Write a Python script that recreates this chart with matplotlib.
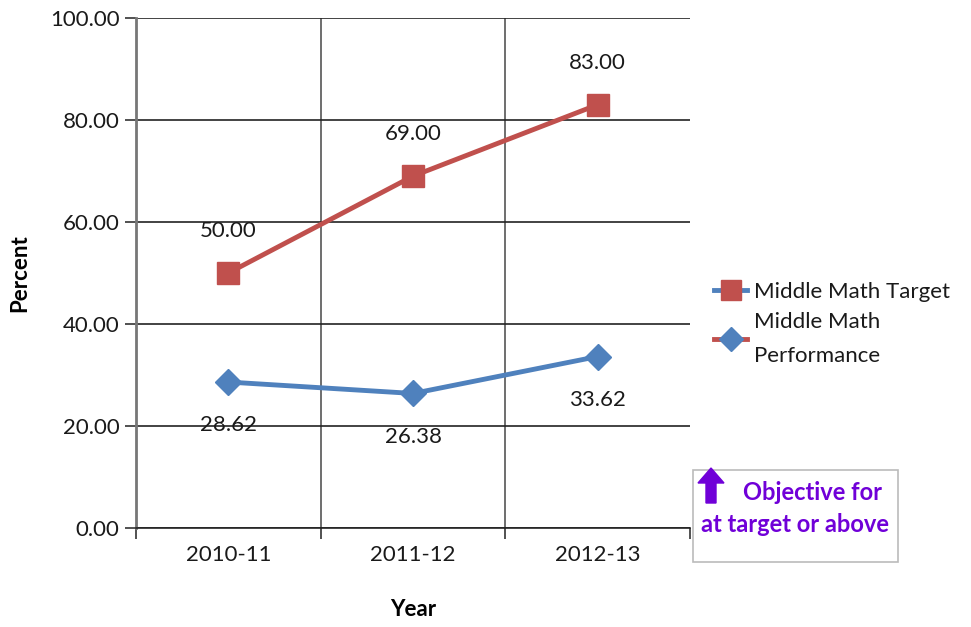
import matplotlib.pyplot as plt
from matplotlib.lines import Line2D
from matplotlib.patches import FancyArrow, Rectangle

years = ['2010-11', '2011-12', '2012-13']
target = [50.00, 69.00, 83.00]
performance = [28.62, 26.38, 33.62]
yticks = [0, 20, 40, 60, 80, 100]

red = '#C0504D'
blue = '#4F81BD'
purple = '#7000D8'
txt = '#1a1a1a'

plt.rcParams['font.family'] = ['Lato', 'DejaVu Sans']
fs = 16

fig = plt.figure(figsize=(9.71, 6.27), dpi=100)
ax = fig.add_axes([136 / 971, 1 - 528 / 627, (690 - 136) / 971, (528 - 18) / 627])

x = [0.5, 1.5, 2.5]
ax.plot(x, target, color=red, lw=3.5, marker='s', ms=16, zorder=4)
ax.plot(x, performance, color=blue, lw=3.5, marker='D', ms=13, zorder=4)

for xi, v in zip(x, target):
    ax.annotate(f'{v:.2f}', (xi, v), xytext=(0, 30), textcoords='offset points',
                ha='center', va='center', fontsize=fs, color=txt)
for xi, v in zip(x, performance):
    ax.annotate(f'{v:.2f}', (xi, v), xytext=(0, -31), textcoords='offset points',
                ha='center', va='center', fontsize=fs, color=txt)

ax.set_xlim(0, 3)
ax.set_ylim(0, 100)
ax.set_yticks(yticks)
ax.set_yticklabels([f'{t:.2f}' for t in yticks], fontsize=fs, color=txt)
ax.set_xticks([0, 1, 2, 3])
ax.set_xticklabels([])
ax.set_xticks(x, minor=True)
ax.set_xticklabels(years, minor=True, fontsize=fs, color=txt)
ax.tick_params(axis='x', which='minor', length=0, pad=12)
ax.tick_params(axis='x', which='major', length=8, width=1.2, color='#333333')
ax.tick_params(axis='y', length=8, width=1.2, color='#333333', pad=4)

ax.grid(True, axis='y', color='#222222', lw=1.2)
for xv in [1, 2]:
    ax.axvline(xv, color='#555555', lw=1.2, zorder=1)
for s in ['top', 'right']:
    ax.spines[s].set_visible(False)
ax.spines['left'].set_color('#777777')
ax.spines['left'].set_linewidth(2)
ax.spines['bottom'].set_color('#222222')
ax.spines['bottom'].set_linewidth(1.2)

ax.set_ylabel('Percent', fontsize=fs, fontweight='bold', labelpad=14)
ax.set_xlabel('Year', fontsize=fs, fontweight='bold', labelpad=25)

handles = [
    Line2D([], [], color=blue, lw=3.5, marker='s', ms=14, markerfacecolor=red, markeredgecolor=red),
    Line2D([], [], color=red, lw=3.5, marker='D', ms=12, markerfacecolor=blue, markeredgecolor=blue),
]
leg = fig.legend(handles, ['Middle Math Target', 'Middle Math\nPerformance'],
                 loc='upper left', bbox_to_anchor=(694 / 971, 1 - 262 / 627),
                 frameon=False, fontsize=fs, handlelength=1.5, handletextpad=0.3,
                 labelspacing=0.45)
for t in leg.get_texts():
    t.set_color(txt)
    t.set_linespacing(1.9)

fig.patches.append(Rectangle((693 / 971, 1 - 562 / 627), 205 / 971, 92 / 627,
                             transform=fig.transFigure, fill=False,
                             edgecolor='#bbbbbb', lw=1.2))
fig.patches.append(FancyArrow(711 / 971, 1 - 503 / 627, 0, 35 / 627,
                              width=10 / 971, head_width=26 / 971, head_length=15 / 627,
                              length_includes_head=True, transform=fig.transFigure,
                              color=purple))
fig.text(812 / 971, 1 - 492 / 627, 'Objective for', color=purple, fontsize=17,
         fontweight='bold', ha='center', va='center')
fig.text(795 / 971, 1 - 524 / 627, 'at target or above', color=purple, fontsize=17,
         fontweight='bold', ha='center', va='center')

fig.savefig('out.png', dpi=100)
